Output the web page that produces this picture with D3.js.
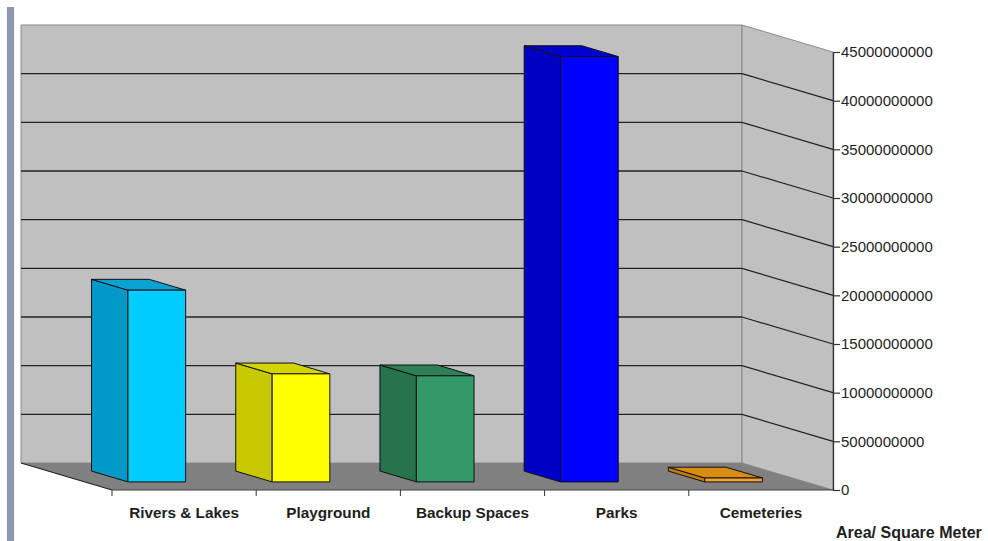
<!DOCTYPE html>
<html>
<head>
<meta charset="utf-8">
<script src="https://cdn.jsdelivr.net/npm/d3@7"></script>
<style>
  body { margin: 0; background: #fff; }
  text { font-family: "Liberation Sans", Arial, sans-serif; fill: #1e1e1e; }
</style>
</head>
<body>
<svg id="chart" width="988" height="541"></svg>
<script>
const categories = ["Rivers & Lakes", "Playground", "Backup Spaces", "Parks", "Cemeteries"];
const areas = [19700000000, 11100000000, 10900000000, 43700000000, 400000000];
const tickValues = [0, 5000000000, 10000000000, 15000000000, 20000000000,
  25000000000, 30000000000, 35000000000, 40000000000, 45000000000];
const frontColors = ["#00ccff", "#ffff00", "#339966", "#0000ff", "#f5a035"];
const sideColors = ["#0099c8", "#c8c800", "#26734d", "#0000c4", "#c47a0e"];
const topColors = ["#0aa2d0", "#d4d400", "#2c7f56", "#0000cc", "#da8b12"];
const axisTitle = "Area/ Square Meter";

const svg = d3.select("#chart");

// front plane of the 3D box
const x = d3.scaleBand().domain(categories).range([112, 833])
  .paddingInner(0.6).paddingOuter(0.3);
const y = d3.scaleLinear().domain([0, 45000000000]).range([490, 52]);
const depth = { dx: -91, dy: -27 };
const proj = (px, py, d) => [px + depth.dx * d, py + depth.dy * d];

const x0 = x.range()[0], x1 = x.range()[1];

// left strip
svg.append("rect").attr("x", 7).attr("y", 7).attr("width", 7).attr("height", 534)
  .attr("fill", "#8e98b2");

// back wall
const bw = [proj(x0, y(45000000000), 1), proj(x1, y(45000000000), 1),
  proj(x1, y(0), 1), proj(x0, y(0), 1)];
svg.append("polygon").attr("points", bw.join(" "))
  .attr("fill", "#c0c0c0").attr("stroke", "#8a8a8a").attr("stroke-width", 1);

// side wall
const sw = [proj(x1, y(45000000000), 1), [x1, y(45000000000)], [x1, y(0)], proj(x1, y(0), 1)];
svg.append("polygon").attr("points", sw.join(" "))
  .attr("fill", "#c0c0c0").attr("stroke", "#8a8a8a").attr("stroke-width", 1);

// floor
const fl = [proj(x0, y(0), 1), proj(x1, y(0), 1), [x1, y(0)], [x0, y(0)]];
svg.append("polygon").attr("points", fl.join(" ")).attr("fill", "#808080");
svg.append("line")
  .attr("x1", proj(x0, y(0), 1)[0]).attr("y1", proj(x0, y(0), 1)[1])
  .attr("x2", x0).attr("y2", y(0))
  .attr("stroke", "#222").attr("stroke-width", 1.2);
svg.append("line").attr("x1", x0).attr("y1", y(0)).attr("x2", x1).attr("y2", y(0))
  .attr("stroke", "#444").attr("stroke-width", 1.2);

// gridlines on back and side walls
const grid = tickValues.filter((v) => v > 0 && v < 45000000000);
svg.selectAll(".grid-back").data(grid).join("line").attr("class", "grid-back")
  .attr("x1", (d) => proj(x0, y(d), 1)[0]).attr("y1", (d) => proj(x0, y(d), 1)[1])
  .attr("x2", (d) => proj(x1, y(d), 1)[0]).attr("y2", (d) => proj(x1, y(d), 1)[1])
  .attr("stroke", "#222").attr("stroke-width", 1.3);
svg.selectAll(".grid-side").data(grid).join("line").attr("class", "grid-side")
  .attr("x1", (d) => proj(x1, y(d), 1)[0]).attr("y1", (d) => proj(x1, y(d), 1)[1])
  .attr("x2", x1).attr("y2", (d) => y(d))
  .attr("stroke", "#222").attr("stroke-width", 1.2);

// bars
const dFront = 0.3, dBack = 0.7;
const bars = svg.selectAll(".bar").data(categories.map((c, i) => ({ c, v: areas[i], i })))
  .join("g").attr("class", "bar");

bars.append("polygon")
  .attr("points", (d) => {
    const l = x(d.c);
    return [proj(l, y(d.v), dFront), proj(l, y(d.v), dBack),
      proj(l, y(0), dBack), proj(l, y(0), dFront)].join(" ");
  })
  .attr("fill", (d) => sideColors[d.i]).attr("stroke", "#111").attr("stroke-width", 1)
  .attr("stroke-linejoin", "round");

bars.append("polygon")
  .attr("points", (d) => {
    const l = x(d.c), r = l + x.bandwidth();
    return [proj(l, y(d.v), dFront), proj(r, y(d.v), dFront),
      proj(r, y(d.v), dBack), proj(l, y(d.v), dBack)].join(" ");
  })
  .attr("fill", (d) => topColors[d.i]).attr("stroke", "#111").attr("stroke-width", 1)
  .attr("stroke-linejoin", "round");

bars.append("polygon")
  .attr("points", (d) => {
    const l = x(d.c), r = l + x.bandwidth();
    return [proj(l, y(d.v), dFront), proj(r, y(d.v), dFront),
      proj(r, y(0), dFront), proj(l, y(0), dFront)].join(" ");
  })
  .attr("fill", (d) => frontColors[d.i]).attr("stroke", "#111").attr("stroke-width", 1)
  .attr("stroke-linejoin", "round");

// category ticks and labels
const step = x.step();
const catTicks = d3.range(categories.length).map((i) => x0 + i * step);
svg.selectAll(".cat-tick").data(catTicks).join("line").attr("class", "cat-tick")
  .attr("x1", (d) => d).attr("x2", (d) => d)
  .attr("y1", y(0)).attr("y2", y(0) + 6)
  .attr("stroke", "#333").attr("stroke-width", 1);

svg.selectAll(".cat-label").data(categories).join("text").attr("class", "cat-label")
  .attr("x", (d) => x(d) + x.bandwidth() / 2)
  .attr("y", 518)
  .attr("text-anchor", "middle")
  .attr("font-size", 15.3).attr("font-weight", "bold")
  .text((d) => d);

// value axis on the right
const axis = svg.append("g").attr("transform", `translate(${x1},0)`)
  .call(d3.axisRight(y).tickValues(tickValues).tickFormat(d3.format("d"))
    .tickSizeInner(7).tickSizeOuter(0).tickPadding(1));
axis.select(".domain").attr("stroke", "#333").attr("stroke-width", 1.3);
axis.selectAll(".tick line").attr("stroke", "#333").attr("stroke-width", 1.2);
axis.selectAll(".tick text")
  .style("font-family", "'Liberation Sans', Arial, sans-serif")
  .attr("font-size", 15).attr("fill", "#1e1e1e");

svg.append("text").attr("x", 836).attr("y", 538)
  .attr("font-size", 16).attr("font-weight", "bold")
  .text(axisTitle);
</script>
</body>
</html>
